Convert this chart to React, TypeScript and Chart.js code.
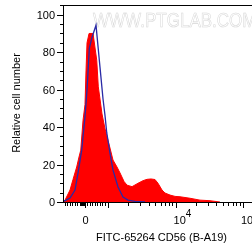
import React, { useEffect, useRef } from "react";
import { Chart, registerables } from "chart.js";
Chart.register(...registerables);

const FONT = "'Liberation Sans', Arial, Helvetica, sans-serif";

// x values are in display "decade" units of the biexponential axis (10^3 = 3, 10^4 = 4, 10^5 = 5)
const redX = [2.333, 2.363, 2.437, 2.481, 2.536, 2.570, 2.596, 2.630, 2.659, 2.674, 2.689, 2.719, 2.778, 2.833, 2.856, 2.881, 2.911, 2.956, 3.0, 3.074, 3.133, 3.178, 3.237, 3.281, 3.356, 3.444, 3.519, 3.578, 3.637, 3.696, 3.741, 3.8, 3.844, 3.919, 3.993, 4.067, 4.215, 4.363, 4.511, 4.615, 4.659];
const redY = [0, 1, 6.4, 12, 18.7, 24, 27.7, 43.7, 52, 70, 85, 90, 90, 75.7, 61.5, 55, 47, 39, 33, 22.4, 18.7, 15.5, 11, 9, 8.2, 10, 11.4, 12.1, 12.3, 12, 10, 6.4, 4.8, 3.7, 3, 2.8, 2, 1, 0.7, 0.2, 0];

const blueX = [2.319, 2.378, 2.437, 2.511, 2.556, 2.610, 2.659, 2.689, 2.723, 2.763, 2.822, 2.881, 2.926, 2.956, 2.981, 3.030, 3.074, 3.148, 3.222, 3.296, 3.4, 3.548];
const blueY = [0, 1, 2.1, 6.4, 15.5, 27.7, 45.6, 60, 82, 88, 94.4, 72, 55, 46, 37, 26, 17, 8, 2.7, 1, 0.3, 0];

const yMajorTicks = [0, 20, 40, 60, 80, 100];
const yMinorTicks = [5, 10, 15, 25, 30, 35, 45, 50, 55, 65, 70, 75, 85, 90, 95, 105];

const xZero = 2.659;
const xMajorTicks = [xZero, 3, 4, 5];
const xLinearMinorTicks = [2.359, 2.393, 2.433, 2.467, 2.507, 2.541, 2.581, 2.596, 2.610, 2.625, 2.640, 2.655, 2.693, 2.729, 2.767, 2.803, 2.841, 2.877, 2.916, 2.951];
const logMinorMultipliers = [2, 3, 4, 5, 6, 7, 8, 9];
const xLogDecades = [3, 4, 5];
const xLabelZero = "0";
const xPowerLabels = [
  { decade: 4, base: "10", exp: "4" },
  { decade: 5, base: "10", exp: "5" },
];

const xTitle = "FITC-65264 CD56 (B-A19)";
const yTitle = "Relative cell number";
const watermark = "WWW.PTGLAB.COM";

const axisPlugin = {
  id: "flowAxes",
  beforeDatasetsDraw(chart: any) {
    const ctx = chart.ctx as CanvasRenderingContext2D;
    ctx.save();
    ctx.strokeStyle = "#d6d6d6";
    ctx.lineWidth = 0.6;
    ctx.font = `21px ${FONT}`;
    ctx.textBaseline = "alphabetic";
    ctx.textAlign = "left";
    ctx.translate(93, 27);
    ctx.scale(0.81, 1);
    ctx.strokeText(watermark, 0, 0);
    ctx.restore();
  },
  afterDraw(chart: any) {
    const ctx = chart.ctx as CanvasRenderingContext2D;
    const area = chart.chartArea;
    const xs = chart.scales.x;
    const ys = chart.scales.y;
    ctx.save();
    ctx.strokeStyle = "#000";
    ctx.lineWidth = 1;
    // frame
    ctx.beginPath();
    ctx.moveTo(area.left + 0.5, area.top + 0.5);
    ctx.lineTo(area.right, area.top + 0.5);
    ctx.moveTo(area.left + 0.5, area.top);
    ctx.lineTo(area.left + 0.5, area.bottom + 1);
    ctx.moveTo(area.left, area.bottom + 0.5);
    ctx.lineTo(area.right, area.bottom + 0.5);
    ctx.stroke();

    // y ticks
    ctx.beginPath();
    for (const v of yMajorTicks) {
      const y = Math.round(ys.getPixelForValue(v)) + 0.5;
      ctx.moveTo(area.left - 6, y);
      ctx.lineTo(area.left, y);
    }
    for (const v of yMinorTicks) {
      const y = Math.round(ys.getPixelForValue(v)) + 0.5;
      ctx.moveTo(area.left - 3, y);
      ctx.lineTo(area.left, y);
    }
    // x ticks
    const bottom = area.bottom + 1;
    for (const v of xMajorTicks) {
      const x = Math.round(xs.getPixelForValue(v)) + 0.5;
      ctx.moveTo(x, bottom);
      ctx.lineTo(x, bottom + 5);
    }
    for (const v of xLinearMinorTicks) {
      const x = Math.round(xs.getPixelForValue(v)) + 0.5;
      ctx.moveTo(x, bottom);
      ctx.lineTo(x, bottom + 3);
    }
    for (const d of xLogDecades) {
      for (const m of logMinorMultipliers) {
        const x = Math.round(xs.getPixelForValue(d + Math.log10(m))) + 0.5;
        ctx.moveTo(x, bottom);
        ctx.lineTo(x, bottom + 3);
      }
    }
    ctx.stroke();

    // y labels
    ctx.fillStyle = "#000";
    ctx.font = `11px ${FONT}`;
    ctx.textAlign = "right";
    ctx.textBaseline = "alphabetic";
    for (const v of yMajorTicks) {
      const y = ys.getPixelForValue(v);
      ctx.fillText(String(v), area.left - 8, y + 4.2);
    }

    // x labels
    ctx.textAlign = "center";
    ctx.fillText(xLabelZero, xs.getPixelForValue(xZero) + 0.5, 224);
    for (const l of xPowerLabels) {
      const x = xs.getPixelForValue(l.decade) - 2;
      ctx.textAlign = "left";
      ctx.font = `11px ${FONT}`;
      ctx.fillText(l.base, x, 224);
      const w = ctx.measureText(l.base).width;
      ctx.font = `10px ${FONT}`;
      ctx.fillText(l.exp, x + w, 217);
    }

    // titles
    ctx.font = `11px ${FONT}`;
    ctx.textAlign = "center";
    ctx.fillText(xTitle, 161.5, 241);
    ctx.save();
    ctx.translate(19.7, 103);
    ctx.rotate(-Math.PI / 2);
    ctx.fillText(yTitle, 0, 0);
    ctx.restore();
    ctx.restore();
  },
};

export default function App() {
  const ref = useRef<HTMLCanvasElement>(null);
  useEffect(() => {
    const canvas = ref.current!;
    const chart = new Chart(canvas, {
      type: "line",
      data: {
        datasets: [
          {
            label: "Isotype",
            data: blueX.map((x, i) => ({ x, y: blueY[i] })),
            borderColor: "#2a2aa6",
            borderWidth: 1.3,
            fill: false,
            pointRadius: 0,
            tension: 0,
          },
          {
            label: "CD56",
            data: redX.map((x, i) => ({ x, y: redY[i] })),
            borderColor: "#ff0000",
            backgroundColor: "#ff0000",
            borderWidth: 1,
            fill: "origin",
            pointRadius: 0,
            tension: 0,
          },
        ],
      },
      options: {
        responsive: false,
        animation: false,
        devicePixelRatio: 1,
        layout: { padding: { left: 63, top: 5, right: 0, bottom: 49 } },
        plugins: { legend: { display: false }, tooltip: { enabled: false } },
        scales: {
          x: { type: "linear", display: false, min: 2.333, max: 5.4 },
          y: { type: "linear", display: false, min: 0, max: 105.2 },
        },
      },
      plugins: [axisPlugin],
    });
    return () => chart.destroy();
  }, []);
  return (
    <div style={{ position: "fixed", left: 0, top: 0, width: 252, height: 251, overflow: "hidden", background: "#fff" }}>
      <canvas ref={ref} width={270} height={251} style={{ display: "block", width: 270, height: 251 }} />
    </div>
  );
}
